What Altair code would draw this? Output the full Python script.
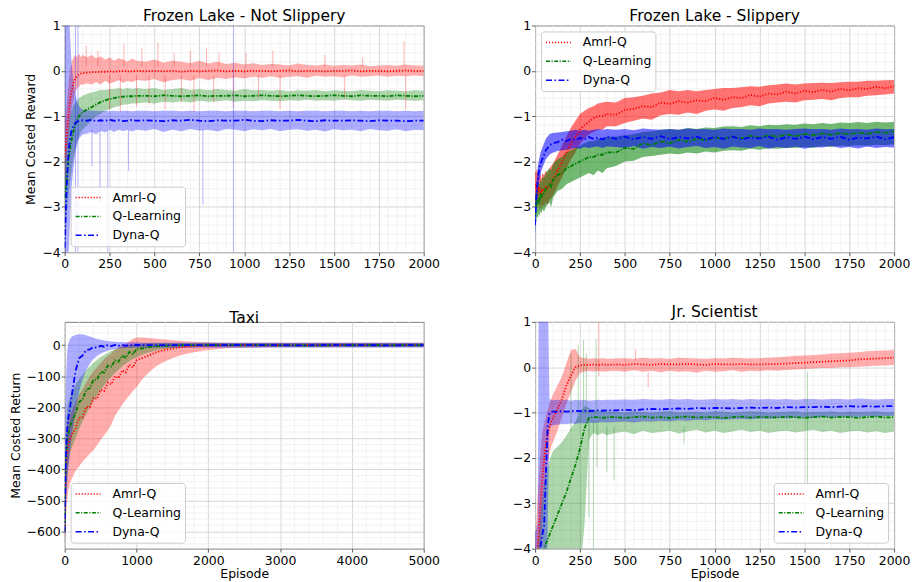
import altair as alt
import pandas as pd

SERIES = ["Amrl-Q", "Q-Learning", "Dyna-Q"]
LINE_COLORS = ["#ff0000", "#008000", "#0000ff"]
DASHES = [[1.2, 1.8], [4, 1.5, 1.2, 1.5], [6, 2.5, 1.5, 2.5]]

# Episodes sampled for the three 2000-episode panels
EP = [0, 5, 10, 15, 20, 25, 30, 35, 40, 50, 60, 70, 80, 90, 100,
      125, 150, 175, 200, 225, 250, 275, 300, 325, 350, 375, 400,
      450, 500, 550, 600, 650, 700, 750, 800,
      850, 900, 950, 1000, 1050, 1100, 1150, 1200,
      1250, 1300, 1350, 1400, 1450, 1500, 1550, 1600,
      1650, 1700, 1750, 1800, 1850, 1900, 1950, 2000]

# ---------------- Frozen Lake - Not Slippery ----------------
FLNS_AMRL_MEAN = [-1.9, -1.7, -1.45, -1.2, -1.0, -0.82, -0.66, -0.52, -0.42, -0.26, -0.16, -0.11, -0.08, -0.06, -0.05,
                  -0.04, -0.03, -0.03, -0.02, -0.02, -0.01, -0.02, -0.01, 0.0, -0.01, -0.01, 0.0,
                  -0.01, 0.0, -0.01, 0.0, -0.02, 0.0, -0.01, 0.0,
                  0.01, -0.01, 0.0, -0.01, 0.0, 0.0, -0.01, 0.0,
                  0.01, -0.01, 0.0, 0.0, -0.01, 0.0, 0.0, 0.01,
                  -0.01, 0.0, 0.0, -0.01, 0.0, 0.01, 0.0, 0.0]
FLNS_AMRL_LO = [-2.7, -2.4, -2.1, -1.8, -1.55, -1.35, -1.15, -0.95, -0.8, -0.6, -0.45, -0.38, -0.35, -0.3, -0.3,
                -0.28, -0.3, -0.25, -0.3, -0.22, -0.28, -0.25, -0.2, -0.27, -0.22, -0.25, -0.2,
                -0.22, -0.18, -0.25, -0.2, -0.18, -0.22, -0.16, -0.2,
                -0.15, -0.18, -0.14, -0.17, -0.13, -0.15, -0.12, -0.16,
                -0.13, -0.12, -0.15, -0.11, -0.13, -0.12, -0.14, -0.1,
                -0.13, -0.12, -0.1, -0.13, -0.11, -0.12, -0.1, -0.12]
FLNS_AMRL_HI = [-1.1, -1.0, -0.8, -0.55, -0.35, -0.15, 0.0, 0.12, 0.2, 0.3, 0.35, 0.3, 0.38, 0.3, 0.35,
                0.3, 0.35, 0.28, 0.32, 0.25, 0.3, 0.22, 0.28, 0.25, 0.2, 0.27, 0.22,
                0.2, 0.25, 0.18, 0.22, 0.2, 0.17, 0.22, 0.16,
                0.2, 0.15, 0.18, 0.14, 0.17, 0.13, 0.15, 0.14,
                0.12, 0.16, 0.13, 0.12, 0.14, 0.11, 0.13, 0.12,
                0.14, 0.1, 0.12, 0.13, 0.11, 0.14, 0.12, 0.12]
FLNS_QL_MEAN = [-2.8, -2.6, -2.4, -2.2, -2.0, -1.85, -1.72, -1.6, -1.5, -1.32, -1.17, -1.07, -1.0, -0.95, -0.91,
                -0.85, -0.8, -0.74, -0.69, -0.65, -0.62, -0.6, -0.58, -0.57, -0.56, -0.56, -0.55,
                -0.55, -0.56, -0.54, -0.55, -0.56, -0.55, -0.54, -0.56,
                -0.55, -0.55, -0.54, -0.56, -0.55, -0.54, -0.55, -0.56,
                -0.55, -0.54, -0.55, -0.56, -0.55, -0.54, -0.55, -0.56,
                -0.54, -0.55, -0.55, -0.56, -0.54, -0.55, -0.56, -0.55]
FLNS_QL_LO = [-3.6, -3.4, -3.2, -3.0, -2.8, -2.6, -2.45, -2.3, -2.15, -1.9, -1.7, -1.55, -1.45, -1.35, -1.3,
              -1.2, -1.1, -1.0, -0.95, -0.88, -0.85, -0.8, -0.78, -0.75, -0.74, -0.72, -0.72,
              -0.7, -0.72, -0.68, -0.7, -0.67, -0.7, -0.66, -0.68,
              -0.67, -0.65, -0.68, -0.66, -0.67, -0.65, -0.66, -0.67,
              -0.65, -0.66, -0.64, -0.66, -0.65, -0.66, -0.64, -0.65,
              -0.66, -0.64, -0.65, -0.66, -0.64, -0.65, -0.66, -0.65]
FLNS_QL_HI = [-2.0, -1.8, -1.6, -1.4, -1.25, -1.1, -1.0, -0.9, -0.85, -0.75, -0.7, -0.65, -0.6, -0.58, -0.55,
              -0.5, -0.48, -0.45, -0.42, -0.42, -0.4, -0.4, -0.38, -0.4, -0.38, -0.4, -0.38,
              -0.4, -0.38, -0.42, -0.4, -0.38, -0.42, -0.4, -0.43,
              -0.4, -0.42, -0.44, -0.4, -0.43, -0.42, -0.44, -0.42,
              -0.45, -0.43, -0.44, -0.42, -0.45, -0.43, -0.44, -0.45,
              -0.42, -0.44, -0.45, -0.43, -0.44, -0.45, -0.43, -0.44]
FLNS_DYNA_MEAN = [-3.9, -3.3, -2.7, -2.25, -1.9, -1.65, -1.48, -1.38, -1.3, -1.2, -1.15, -1.12, -1.1, -1.1, -1.09,
                  -1.1, -1.08, -1.11, -1.09, -1.1, -1.08, -1.1, -1.09, -1.11, -1.1, -1.08, -1.1,
                  -1.09, -1.1, -1.11, -1.09, -1.1, -1.08, -1.1, -1.11,
                  -1.09, -1.1, -1.1, -1.08, -1.1, -1.11, -1.09, -1.1,
                  -1.1, -1.08, -1.1, -1.11, -1.09, -1.1, -1.1, -1.09,
                  -1.1, -1.11, -1.09, -1.1, -1.1, -1.11, -1.1, -1.1]
FLNS_DYNA_LO = [-5.0, -5.0, -5.0, -4.6, -4.2, -3.8, -3.3, -2.9, -2.5, -2.1, -1.8, -1.6, -1.5, -1.45, -1.4,
                -1.38, -1.35, -1.4, -1.32, -1.36, -1.3, -1.35, -1.3, -1.33, -1.3, -1.34, -1.3,
                -1.32, -1.28, -1.35, -1.3, -1.33, -1.28, -1.32, -1.3,
                -1.34, -1.28, -1.3, -1.33, -1.29, -1.31, -1.28, -1.33,
                -1.3, -1.29, -1.32, -1.3, -1.34, -1.29, -1.31, -1.3,
                -1.33, -1.28, -1.31, -1.32, -1.29, -1.33, -1.3, -1.31]
FLNS_DYNA_HI = [2.0, 2.0, 2.0, 1.8, 1.5, 1.2, 0.8, 0.4, 0.1, -0.3, -0.55, -0.7, -0.78, -0.83, -0.86,
                -0.87, -0.88, -0.88, -0.89, -0.88, -0.89, -0.88, -0.89, -0.88, -0.88, -0.89, -0.88,
                -0.88, -0.89, -0.88, -0.88, -0.89, -0.88, -0.89, -0.88,
                -0.88, -0.89, -0.88, -0.88, -0.89, -0.88, -0.88, -0.89,
                -0.88, -0.89, -0.88, -0.88, -0.89, -0.88, -0.88, -0.89,
                -0.88, -0.89, -0.88, -0.88, -0.89, -0.88, -0.89, -0.88]
FLNS_SPIKE_X = [120, 185, 330, 430, 520, 610, 700, 790, 860, 1010, 1160, 1450, 1660, 1890,
                250, 310, 400, 470, 560, 650, 720, 830, 940, 1080, 1200, 1560, 1900,
                60, 74, 152, 196, 240, 356, 770, 940]
FLNS_SPIKE_FROM = [0.1] * 14 + [-0.1] * 13 + [-4, -4, -1.3, -1.3, -1.3, -1.3, -1.3, -4]
FLNS_SPIKE_TO = [0.55, 0.45, 0.6, 0.5, 0.62, 0.4, 0.45, 0.5, 0.4, 0.4, 0.45, 0.35, 0.3, 0.65,
                 -0.85, -0.9, -0.8, -0.75, -0.85, -0.7, -0.9, -0.7, -0.8, -0.6, -0.85, -0.6, -0.85,
                 1, 1, -2.1, -2.9, -4, -2.2, -2.95, 1]
FLNS_SPIKE_SERIES = ["Amrl-Q"] * 27 + ["Dyna-Q"] * 8

# ---------------- Frozen Lake - Slippery ----------------
FLS_AMRL_MEAN = [-2.5, -2.6, -2.5, -2.7, -2.55, -2.7, -2.6, -2.75, -2.6, -2.65, -2.55, -2.6, -2.5, -2.45, -2.4,
                 -2.2, -2.0, -1.8, -1.6, -1.45, -1.3, -1.2, -1.12, -1.05, -1.0, -1.0, -0.95,
                 -0.97, -0.86, -0.84, -0.78, -0.8, -0.7, -0.73, -0.67,
                 -0.7, -0.65, -0.67, -0.6, -0.64, -0.58, -0.6, -0.53,
                 -0.57, -0.5, -0.52, -0.46, -0.5, -0.44, -0.47, -0.42,
                 -0.46, -0.4, -0.43, -0.38, -0.4, -0.35, -0.38, -0.34]
FLS_AMRL_LO = [-2.9, -3.0, -2.85, -3.05, -2.9, -3.1, -2.95, -3.1, -2.95, -3.0, -2.9, -2.95, -2.85, -2.8, -2.75,
               -2.55, -2.35, -2.15, -1.95, -1.8, -1.6, -1.5, -1.4, -1.35, -1.3, -1.3, -1.22,
               -1.22, -1.15, -1.1, -1.05, -1.08, -0.98, -0.95, -0.97,
               -0.92, -0.95, -0.88, -0.85, -0.88, -0.82, -0.8, -0.76,
               -0.78, -0.72, -0.7, -0.68, -0.7, -0.65, -0.64, -0.62,
               -0.65, -0.6, -0.58, -0.58, -0.55, -0.54, -0.52, -0.5]
FLS_AMRL_HI = [-2.2, -2.25, -2.15, -2.3, -2.2, -2.35, -2.25, -2.4, -2.25, -2.3, -2.2, -2.25, -2.15, -2.1, -2.05,
               -1.85, -1.65, -1.45, -1.25, -1.1, -0.95, -0.88, -0.82, -0.78, -0.72, -0.7, -0.68,
               -0.7, -0.6, -0.58, -0.55, -0.5, -0.48, -0.42, -0.45,
               -0.42, -0.45, -0.42, -0.4, -0.38, -0.38, -0.36, -0.34,
               -0.35, -0.32, -0.3, -0.28, -0.3, -0.28, -0.27, -0.26,
               -0.27, -0.25, -0.24, -0.24, -0.22, -0.22, -0.21, -0.2]
FLS_QL_MEAN = [-3.2, -3.0, -2.85, -2.9, -2.8, -2.85, -2.75, -2.8, -2.7, -2.7, -2.6, -2.55, -2.5, -2.55, -2.4,
               -2.3, -2.25, -2.15, -2.1, -2.05, -2.0, -1.95, -1.9, -1.9, -1.85, -1.85, -1.8,
               -1.8, -1.7, -1.72, -1.6, -1.64, -1.55, -1.6, -1.52,
               -1.56, -1.5, -1.53, -1.47, -1.5, -1.45, -1.49, -1.43,
               -1.47, -1.42, -1.45, -1.4, -1.44, -1.39, -1.42, -1.38,
               -1.41, -1.37, -1.4, -1.36, -1.39, -1.35, -1.37, -1.33]
FLS_QL_LO = [-3.5, -3.35, -3.2, -3.25, -3.15, -3.2, -3.1, -3.15, -3.05, -3.1, -3.0, -2.95, -2.9, -3.0, -2.8,
             -2.65, -2.6, -2.5, -2.45, -2.4, -2.35, -2.3, -2.25, -2.3, -2.2, -2.25, -2.15,
             -2.1, -2.0, -1.98, -1.9, -1.88, -1.85, -1.82, -1.84,
             -1.8, -1.82, -1.78, -1.8, -1.76, -1.75, -1.76, -1.72,
             -1.74, -1.71, -1.72, -1.7, -1.7, -1.68, -1.7, -1.66,
             -1.68, -1.65, -1.66, -1.64, -1.65, -1.63, -1.64, -1.62]
FLS_QL_HI = [-2.8, -2.65, -2.5, -2.55, -2.45, -2.5, -2.4, -2.45, -2.35, -2.35, -2.25, -2.2, -2.15, -2.2, -2.05,
             -1.95, -1.9, -1.8, -1.75, -1.7, -1.65, -1.6, -1.55, -1.55, -1.5, -1.5, -1.45,
             -1.45, -1.42, -1.4, -1.35, -1.33, -1.3, -1.28, -1.3,
             -1.26, -1.28, -1.25, -1.26, -1.23, -1.22, -1.24, -1.2,
             -1.22, -1.19, -1.2, -1.18, -1.19, -1.16, -1.18, -1.15,
             -1.17, -1.14, -1.15, -1.13, -1.15, -1.12, -1.14, -1.12]
FLS_DYNA_MEAN = [-3.4, -2.9, -2.6, -2.4, -2.25, -2.15, -2.05, -2.0, -1.95, -1.85, -1.75, -1.7, -1.65, -1.62, -1.6,
                 -1.57, -1.52, -1.55, -1.5, -1.53, -1.48, -1.51, -1.46, -1.5, -1.47, -1.51, -1.46,
                 -1.5, -1.45, -1.51, -1.46, -1.5, -1.44, -1.51, -1.46,
                 -1.49, -1.45, -1.52, -1.46, -1.5, -1.45, -1.51, -1.47,
                 -1.49, -1.45, -1.52, -1.46, -1.5, -1.45, -1.51, -1.46,
                 -1.5, -1.45, -1.52, -1.47, -1.49, -1.45, -1.51, -1.46]
FLS_DYNA_LO = [-3.7, -3.2, -2.9, -2.7, -2.5, -2.4, -2.3, -2.2, -2.15, -2.05, -1.95, -1.9, -1.85, -1.82, -1.8,
               -1.77, -1.75, -1.74, -1.72, -1.7, -1.72, -1.68, -1.7, -1.68, -1.67, -1.7, -1.67,
               -1.68, -1.7, -1.66, -1.72, -1.68, -1.7, -1.67, -1.71,
               -1.68, -1.66, -1.7, -1.68, -1.72, -1.67, -1.69, -1.7,
               -1.66, -1.71, -1.68, -1.7, -1.67, -1.72, -1.68, -1.69,
               -1.66, -1.7, -1.68, -1.71, -1.67, -1.7, -1.68, -1.69]
FLS_DYNA_HI = [-3.1, -2.6, -2.3, -2.1, -2.0, -1.9, -1.8, -1.75, -1.7, -1.6, -1.5, -1.45, -1.4, -1.38, -1.37,
               -1.36, -1.35, -1.33, -1.32, -1.3, -1.32, -1.3, -1.32, -1.3, -1.28, -1.3, -1.28,
               -1.3, -1.28, -1.31, -1.27, -1.29, -1.3, -1.28, -1.3,
               -1.27, -1.29, -1.28, -1.3, -1.27, -1.29, -1.28, -1.3,
               -1.27, -1.29, -1.28, -1.3, -1.28, -1.27, -1.29, -1.28,
               -1.3, -1.27, -1.29, -1.28, -1.3, -1.27, -1.29, -1.28]

# ---------------- Taxi ----------------
TAXI_EP = [0, 10, 20, 30, 40, 50, 75, 100,
           150, 200, 250, 300, 350, 400, 450, 500, 550, 600, 650, 700, 750, 800, 850, 900, 950, 1000,
           1100, 1200, 1300, 1400, 1500, 1600, 1700, 1800, 1900, 2000,
           2250, 2500, 2750, 3000, 3250, 3500, 3750, 4000, 4250, 4500, 4750, 5000]
TAXI_AMRL_MEAN = [-600, -450, -385, -355, -335, -320, -300, -287,
                  -271, -234, -232, -199, -200, -170, -173, -144, -148, -121, -126, -100, -106, -81, -88, -63, -72, -49,
                  -40, -30, -21, -15, -11, -7, -5, -3, -2, -1,
                  0, 1, -1, 0, 1, 0, -1, 1, 0, 0, 1, 0]
TAXI_AMRL_LO = [-650, -600, -550, -510, -490, -470, -445, -430,
                -405, -390, -375, -362, -350, -338, -322, -305, -290, -275, -255, -228, -210, -192, -177, -162, -148, -135,
                -105, -82, -64, -52, -42, -33, -28, -23, -19, -16,
                -10, -8, -7, -6, -6, -6, -6, -6, -6, -6, -6, -6]
TAXI_AMRL_HI = [-550, -350, -300, -270, -250, -240, -225, -210,
                -185, -160, -140, -120, -100, -85, -70, -58, -45, -35, -25, -15, -8, 0, 5, 12, 20, 25,
                25, 22, 20, 18, 16, 14, 12, 11, 10, 9,
                8, 8, 8, 8, 8, 8, 8, 8, 8, 8, 8, 8]
TAXI_QL_MEAN = [-600, -430, -360, -320, -300, -285, -262, -245,
                -221, -184, -174, -144, -139, -112, -111, -87, -88, -66, -69, -49, -53, -34, -40, -22, -29, -13,
                -10, -5, -3, -2, -1, 0, 0, 0, 0, 0,
                0, 0, 1, 0, 0, -1, 0, 0, 1, 0, 0, 0]
TAXI_QL_LO = [-660, -560, -480, -430, -400, -380, -350, -330,
              -300, -270, -245, -222, -200, -180, -162, -145, -130, -115, -102, -90, -79, -69, -60, -52, -45, -39,
              -29, -21, -16, -12, -10, -8, -7, -7, -6, -6,
              -6, -6, -6, -6, -6, -6, -6, -6, -6, -6, -6, -6]
TAXI_QL_HI = [-500, -330, -260, -220, -200, -185, -165, -150,
              -128, -110, -95, -80, -68, -57, -47, -39, -31, -25, -19, -14, -10, -6, -3, 0, 2, 4,
              6, 7, 7, 7, 7, 7, 7, 7, 7, 7,
              7, 7, 7, 7, 7, 7, 7, 7, 7, 7, 7, 7]
TAXI_DYNA_MEAN = [-600, -420, -340, -290, -260, -235, -200, -160,
                  -85, -42, -33, -16, -14, -6, -8, -2, -5, 0, -3, 1, -2, 1, -2, 1, -1, 1,
                  0, 0, 0, 0, 0, 0, 0, 0, 0, 0,
                  0, 1, 0, 0, -1, 0, 1, 0, 0, -1, 0, 0]
TAXI_DYNA_LO = [-660, -600, -520, -470, -430, -400, -340, -290,
                -210, -150, -110, -80, -60, -45, -35, -28, -22, -18, -15, -13, -11, -10, -9, -9, -8, -8,
                -8, -8, -8, -8, -8, -8, -8, -8, -8, -8,
                -8, -8, -8, -8, -8, -8, -8, -8, -8, -8, -8, -8]
TAXI_DYNA_HI = [-500, -200, -100, -40, -10, 5, 20, 28,
                33, 35, 35, 32, 28, 24, 20, 17, 15, 13, 12, 11, 10, 10, 9, 9, 9, 9,
                8, 8, 8, 8, 8, 8, 8, 8, 8, 8,
                8, 8, 8, 8, 8, 8, 8, 8, 8, 8, 8, 8]

# ---------------- Jr. Scientist ----------------
JRS_AMRL_MEAN = [-5.0, -4.6, -4.3, -4.0, -3.7, -3.35, -3.05, -2.75, -2.5, -2.05, -1.72, -1.48, -1.33, -1.2, -1.12,
                 -0.92, -0.7, -0.4, -0.18, 0.0, 0.04, 0.05, 0.05, 0.06, 0.05, 0.06, 0.05,
                 0.06, 0.05, 0.07, 0.06, 0.05, 0.07, 0.06, 0.06,
                 0.07, 0.06, 0.05, 0.07, 0.06, 0.06, 0.07, 0.06,
                 0.06, 0.07, 0.07, 0.08, 0.09, 0.1, 0.11, 0.12,
                 0.13, 0.14, 0.15, 0.17, 0.18, 0.19, 0.2, 0.21]
JRS_AMRL_LO = [-6.0, -6.0, -6.0, -5.5, -5.0, -4.6, -4.2, -3.8, -3.4, -2.8, -2.4, -2.1, -1.9, -1.75, -1.65,
               -1.4, -1.1, -0.8, -0.55, -0.3, -0.12, -0.1, -0.08, -0.1, -0.08, -0.1, -0.09,
               -0.08, -0.1, -0.07, -0.1, -0.08, -0.11, -0.08, -0.1,
               -0.09, -0.12, -0.08, -0.1, -0.09, -0.07, -0.1, -0.08,
               -0.09, -0.07, -0.08, -0.06, -0.05, -0.04, -0.03, -0.02,
               -0.02, 0.0, 0.0, 0.01, 0.02, 0.03, 0.04, 0.05]
JRS_AMRL_HI = [-4.0, -3.6, -3.2, -2.8, -2.5, -2.2, -1.9, -1.65, -1.45, -1.25, -1.1, -0.95, -0.8, -0.7, -0.6,
               -0.4, -0.2, 0.1, 0.38, 0.4, 0.22, 0.2, 0.18, 0.2, 0.18, 0.2, 0.18,
               0.19, 0.2, 0.18, 0.21, 0.19, 0.2, 0.18, 0.21,
               0.2, 0.19, 0.18, 0.2, 0.19, 0.21, 0.2, 0.19,
               0.2, 0.21, 0.22, 0.23, 0.25, 0.26, 0.27, 0.28,
               0.3, 0.31, 0.32, 0.33, 0.35, 0.36, 0.37, 0.38]
JRS_QL_MEAN = [-5.5, -5.3, -5.1, -4.9, -4.7, -4.55, -4.4, -4.3, -4.2, -4.05, -3.9, -3.8, -3.7, -3.6, -3.5,
               -3.25, -3.0, -2.75, -2.45, -2.15, -1.8, -1.35, -1.12, -1.1, -1.1, -1.12, -1.1,
               -1.1, -1.12, -1.1, -1.09, -1.11, -1.1, -1.12, -1.1,
               -1.09, -1.11, -1.1, -1.1, -1.12, -1.1, -1.09, -1.11,
               -1.1, -1.1, -1.11, -1.09, -1.1, -1.12, -1.1, -1.09,
               -1.11, -1.1, -1.1, -1.12, -1.1, -1.09, -1.11, -1.1]
JRS_QL_LO = [-6.0, -6.0, -6.0, -6.0, -6.0, -6.0, -6.0, -6.0, -6.0, -6.0, -6.0, -6.0, -6.0, -6.0, -6.0,
             -6.0, -6.0, -5.5, -5.0, -4.8, -4.5, -3.5, -1.6, -1.45, -1.5, -1.45, -1.5,
             -1.45, -1.42, -1.48, -1.4, -1.45, -1.43, -1.4, -1.46,
             -1.42, -1.38, -1.44, -1.4, -1.45, -1.42, -1.38, -1.43,
             -1.4, -1.45, -1.42, -1.4, -1.44, -1.41, -1.38, -1.43,
             -1.4, -1.45, -1.42, -1.4, -1.44, -1.41, -1.45, -1.42]
JRS_QL_HI = [-4.5, -4.3, -4.1, -3.9, -3.7, -3.5, -3.3, -3.1, -2.9, -2.6, -2.35, -2.2, -2.05, -1.95, -1.85,
             -1.75, -1.65, -1.5, -1.35, -1.2, -1.0, -0.85, -0.9, -0.95, -0.95, -0.98, -0.97,
             -0.98, -1.0, -0.97, -0.99, -1.0, -0.98, -0.97, -1.0,
             -0.99, -0.98, -1.0, -0.97, -0.98, -1.0, -0.99, -0.97,
             -0.98, -1.0, -0.99, -0.98, -0.97, -1.0, -0.98, -0.99,
             -0.97, -1.0, -0.98, -0.99, -0.98, -0.97, -1.0, -0.98]
JRS_DYNA_MEAN = [-4.5, -4.4, -4.3, -4.2, -4.1, -4.0, -3.95, -3.85, -3.7, -3.5, -2.4, -1.3, -1.02, -0.98, -0.98,
                 -0.98, -0.97, -0.98, -0.97, -0.96, -0.97, -0.96, -0.97, -0.96, -0.95, -0.96, -0.95,
                 -0.95, -0.94, -0.95, -0.93, -0.92, -0.93, -0.92, -0.91,
                 -0.92, -0.9, -0.91, -0.9, -0.9, -0.91, -0.9, -0.89,
                 -0.9, -0.89, -0.9, -0.88, -0.89, -0.88, -0.88, -0.87,
                 -0.88, -0.87, -0.86, -0.87, -0.86, -0.87, -0.86, -0.86]
JRS_DYNA_LO = [-6.0, -6.0, -6.0, -6.0, -6.0, -6.0, -6.0, -6.0, -6.0, -6.0, -6.0, -3.5, -1.32, -1.3, -1.28,
               -1.27, -1.25, -1.26, -1.24, -1.25, -1.23, -1.24, -1.22, -1.23, -1.22, -1.21, -1.22,
               -1.21, -1.2, -1.22, -1.19, -1.2, -1.18, -1.19, -1.17,
               -1.18, -1.16, -1.17, -1.15, -1.16, -1.15, -1.14, -1.15,
               -1.13, -1.14, -1.12, -1.13, -1.12, -1.11, -1.12, -1.1,
               -1.11, -1.1, -1.09, -1.1, -1.08, -1.09, -1.08, -1.07]
JRS_DYNA_HI = [-3.6, -3.6, -3.5, -3.4, 2.0, 2.0, 2.0, 2.0, 2.0, 2.0, 2.0, 2.0, -0.7, -0.72, -0.73,
               -0.72, -0.73, -0.72, -0.74, -0.72, -0.73, -0.72, -0.74, -0.73, -0.72, -0.73, -0.72,
               -0.72, -0.71, -0.72, -0.7, -0.71, -0.72, -0.7, -0.71,
               -0.7, -0.72, -0.71, -0.7, -0.71, -0.7, -0.72, -0.7,
               -0.71, -0.7, -0.71, -0.7, -0.72, -0.7, -0.7, -0.71,
               -0.7, -0.7, -0.71, -0.69, -0.7, -0.71, -0.7, -0.7]
JRS_SPIKE_X = [355, 560, 630, 200, 240, 270, 285, 340, 300, 325, 345, 400, 440, 830, 1517]
JRS_SPIKE_FROM = [-0.2, 0.15, -0.1, -1.4, -1.2, -1.0, -1.0, -1.0, -1.2, -1.2, -1.2, -1.3, -1.3, -1.3, -0.1]
JRS_SPIKE_TO = [1.0, 0.4, -0.45, 0.3, 0.5, 0.6, 0.3, 0.62, -3.3, -4.0, -2.2, -2.3, -2.5, -1.7, -2.55]
JRS_SPIKE_SERIES = ["Amrl-Q"] * 3 + ["Q-Learning"] * 12

# Axis ticks (major labelled, minor as light grid lines)
X2000_MAJOR = [0, 250, 500, 750, 1000, 1250, 1500, 1750, 2000]
X2000_MINOR = [v for v in range(50, 2000, 50) if v % 250 != 0]
X5000_MAJOR = [0, 1000, 2000, 3000, 4000, 5000]
X5000_MINOR = [v for v in range(200, 5000, 200) if v % 1000 != 0]
Y_MAJOR = [-4, -3, -2, -1, 0, 1]
Y_MINOR = [-3.8, -3.6, -3.4, -3.2, -2.8, -2.6, -2.4, -2.2, -1.8, -1.6, -1.4, -1.2,
           -0.8, -0.6, -0.4, -0.2, 0.2, 0.4, 0.6, 0.8]
YT_MAJOR = [-600, -500, -400, -300, -200, -100, 0]
YT_MINOR = [v for v in range(-640, 61, 20) if v % 100 != 0]

COLOR_OF = dict(zip(SERIES, LINE_COLORS))


def build(name, x, means, los, his):
    rows = []
    for s, m, lo, hi in zip(SERIES, means, los, his):
        if not (len(m) == len(x) == len(lo) == len(hi)):
            raise ValueError(f"{name} {s}: {len(x)} {len(m)} {len(lo)} {len(hi)}")
        for xi, mi, li, hv in zip(x, m, lo, hi):
            rows.append({"x": xi, "series": s, "col": COLOR_OF[s], "mean": mi, "lo": li, "hi": hv})
    return pd.DataFrame(rows)


def spikes(x, y, y2, s):
    return pd.DataFrame({"x": x, "y": y, "y2": y2, "col": [COLOR_OF[v] for v in s]})


def make_axis(vals, title):
    return alt.Axis(values=vals, format="d", title=title, labelOverlap=False,
                    labelFlush=False, labelBound=False, domain=False, grid=True,
                    gridColor="#cccccc", gridWidth=0.8, tickSize=3.5, tickWidth=0.8,
                    tickColor="#333333")


def panel(df, spk, title, xmax, xmaj, xmin, ydom, ymaj, ymin, ytitle, xtitle,
          legend_orient, band_opacity):
    xs = alt.Scale(domain=[0, xmax], nice=False, zero=False)
    ys = alt.Scale(domain=ydom, nice=False, zero=False)
    xax = make_axis(xmaj, xtitle)
    yax = make_axis(ymaj, ytitle)
    leg = alt.Legend(title=None, orient=legend_orient, offset=6, zindex=2,
                     fillColor="rgba(255,255,255,0.8)", strokeColor="#cccccc",
                     cornerRadius=3, padding=4, symbolType="stroke", symbolSize=625,
                     symbolStrokeWidth=1.5, labelFontSize=12.5, labelFont="DejaVu Sans",
                     labelColor="#000000", labelOffset=11, rowPadding=5, clipHeight=14)
    gx = alt.Chart(pd.DataFrame({"v": xmin})).mark_rule(color="#eeeeee", strokeWidth=0.8).encode(
        x=alt.X("v:Q", scale=xs, axis=xax))
    gy = alt.Chart(pd.DataFrame({"v": ymin})).mark_rule(color="#eeeeee", strokeWidth=0.8).encode(
        y=alt.Y("v:Q", scale=ys, axis=yax))
    band = alt.Chart(df).mark_area(clip=True, opacity=band_opacity).encode(
        x=alt.X("x:Q", scale=xs, axis=xax),
        y=alt.Y("lo:Q", scale=ys, axis=yax, stack=None),
        y2="hi:Q",
        fill=alt.Fill("col:N", scale=None),
    )
    line = alt.Chart(df).mark_line(clip=True, strokeWidth=1.8).encode(
        x=alt.X("x:Q", scale=xs, axis=xax),
        y=alt.Y("mean:Q", scale=ys, axis=yax),
        color=alt.Color("series:N", scale=alt.Scale(domain=SERIES, range=LINE_COLORS), legend=leg),
        strokeDash=alt.StrokeDash("series:N", scale=alt.Scale(domain=SERIES, range=DASHES), legend=leg),
    )
    layers = [gx, gy, band]
    if spk is not None:
        layers.append(alt.Chart(spk).mark_rule(clip=True, opacity=0.3, strokeWidth=1).encode(
            x=alt.X("x:Q", scale=xs, axis=xax),
            y=alt.Y("y:Q", scale=ys, axis=yax),
            y2="y2:Q",
            stroke=alt.Stroke("col:N", scale=None),
        ))
    layers.append(line)
    return alt.layer(*layers).properties(width=361, height=228, title=title)


df1 = build("flns", EP, [FLNS_AMRL_MEAN, FLNS_QL_MEAN, FLNS_DYNA_MEAN],
            [FLNS_AMRL_LO, FLNS_QL_LO, FLNS_DYNA_LO], [FLNS_AMRL_HI, FLNS_QL_HI, FLNS_DYNA_HI])
df2 = build("fls", EP, [FLS_AMRL_MEAN, FLS_QL_MEAN, FLS_DYNA_MEAN],
            [FLS_AMRL_LO, FLS_QL_LO, FLS_DYNA_LO], [FLS_AMRL_HI, FLS_QL_HI, FLS_DYNA_HI])
df3 = build("taxi", TAXI_EP, [TAXI_AMRL_MEAN, TAXI_QL_MEAN, TAXI_DYNA_MEAN],
            [TAXI_AMRL_LO, TAXI_QL_LO, TAXI_DYNA_LO], [TAXI_AMRL_HI, TAXI_QL_HI, TAXI_DYNA_HI])
df4 = build("jrs", EP, [JRS_AMRL_MEAN, JRS_QL_MEAN, JRS_DYNA_MEAN],
            [JRS_AMRL_LO, JRS_QL_LO, JRS_DYNA_LO], [JRS_AMRL_HI, JRS_QL_HI, JRS_DYNA_HI])
spk1 = spikes(FLNS_SPIKE_X, FLNS_SPIKE_FROM, FLNS_SPIKE_TO, FLNS_SPIKE_SERIES)
spk4 = spikes(JRS_SPIKE_X, JRS_SPIKE_FROM, JRS_SPIKE_TO, JRS_SPIKE_SERIES)

p1 = panel(df1, spk1, "Frozen Lake - Not Slippery", 2000, X2000_MAJOR, X2000_MINOR, [-4, 1],
           Y_MAJOR, Y_MINOR, "Mean Costed Reward", None, "bottom-left", 0.32)
p2 = panel(df2, None, "Frozen Lake - Slippery", 2000, X2000_MAJOR, X2000_MINOR, [-4, 1],
           Y_MAJOR, Y_MINOR, None, None, "top-left", 0.55)
p3 = panel(df3, None, "Taxi", 5000, X5000_MAJOR, X5000_MINOR, [-655, 75],
           YT_MAJOR, YT_MINOR, "Mean Costed Return", "Episode", "bottom-left", 0.32)
p4 = panel(df4, spk4, "Jr. Scientist", 2000, X2000_MAJOR, X2000_MINOR, [-4, 1],
           Y_MAJOR, Y_MINOR, None, "Episode", "bottom-right", 0.32)

chart = alt.concat(
    p1, p2, p3, p4, columns=2, spacing={"row": 70, "column": 112}, bounds="flush"
).resolve_scale(
    x="independent", y="independent", color="independent", strokeDash="independent"
).properties(
    padding={"top": -2, "left": 0, "right": 0, "bottom": 0}
).configure(
    font="DejaVu Sans"
).configure_view(
    stroke="#808080", strokeWidth=1
).configure_axis(
    labelFontSize=12.5, titleFontSize=12.5, labelColor="#000000", titleColor="#000000",
    titleFontWeight="normal", labelFont="DejaVu Sans", titleFont="DejaVu Sans"
).configure_axisY(
    labelPadding=1, titlePadding=4
).configure_axisX(
    labelPadding=2, titlePadding=1
).configure_title(
    fontSize=15.6, fontWeight="normal", color="#000000", offset=-5, anchor="middle",
    font="DejaVu Sans", frame="group"
)

chart.save("out.html", embed_options={"renderer": "svg", "actions": False})
